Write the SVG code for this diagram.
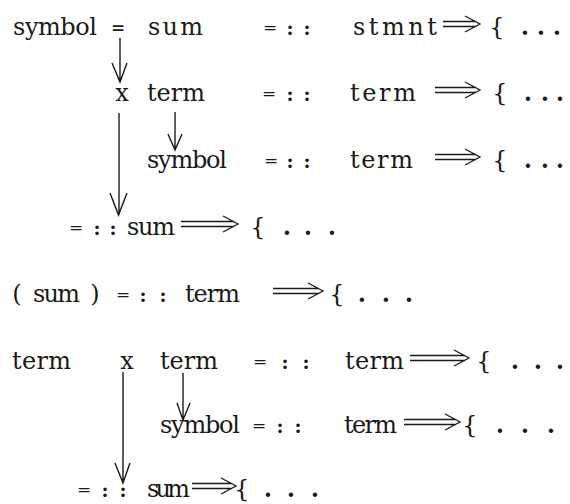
<svg xmlns="http://www.w3.org/2000/svg" width="570" height="504" viewBox="0 0 570 504">
<style>
.w{font-family:"DejaVu Serif","Liberation Serif",serif;font-size:24px;fill:#1a1a1a}
.m{font-family:"DejaVu Serif","Liberation Serif",serif;font-size:24px;fill:#1a1a1a;text-anchor:middle}
.p{font-family:"DejaVu Serif","Liberation Serif",serif;font-size:24px;font-weight:bold;fill:#1a1a1a;text-anchor:middle}
.o{font-family:"DejaVu Serif","Liberation Serif",serif;font-size:17px;fill:#1a1a1a;text-anchor:middle}
.k{font-family:"DejaVu Serif","Liberation Serif",serif;font-size:19px;font-weight:bold;fill:#1a1a1a;text-anchor:middle}
.c{fill:none;stroke:#1a1a1a;stroke-width:1.4}
.d{fill:none;stroke:#1a1a1a;stroke-width:1.3}
</style>
<rect width="570" height="504" fill="#fff"/>
<g id="row1">
<text class="w" x="13" y="35" textLength="84" lengthAdjust="spacing">symbol</text>
<text class="o" x="118" y="33" font-weight="bold">=</text>
<text class="w" x="148" y="35" textLength="55" lengthAdjust="spacing">sum</text>
<text class="o" x="270" y="33">=</text><text class="k" x="290" y="35">:</text><text class="k" x="307" y="35">:</text>
<text class="w" x="353" y="35" textLength="84" lengthAdjust="spacing">stmnt</text>
<path class="d" d="M443 21.5H476M443 26.5H476M465 16L480 24L465 32"/>
<text class="m" x="497" y="35">{</text><text class="p" x="525" y="35">.</text><text class="p" x="541" y="35">.</text><text class="p" x="557" y="35">.</text>
</g>
<g id="row2">
<text class="m" x="122" y="101">x</text>
<text class="w" x="147" y="101" textLength="58" lengthAdjust="spacing">term</text>
<text class="o" x="269" y="99">=</text><text class="k" x="290" y="101">:</text><text class="k" x="307" y="101">:</text>
<text class="w" x="350" y="101" textLength="66" lengthAdjust="spacing">term</text>
<path class="d" d="M435 87.5H476M435 92.5H476M465 82L480 90L465 98"/>
<text class="m" x="500" y="101">{</text><text class="p" x="528" y="101">.</text><text class="p" x="545" y="101">.</text><text class="p" x="560" y="101">.</text>
</g>
<g id="row3">
<text class="w" x="147" y="168" textLength="80" lengthAdjust="spacing">symbol</text>
<text class="o" x="271" y="166">=</text><text class="k" x="290" y="168">:</text><text class="k" x="307" y="168">:</text>
<text class="w" x="350" y="168" textLength="63" lengthAdjust="spacing">term</text>
<path class="d" d="M435 154.5H476M435 159.5H476M465 149L480 157L465 165"/>
<text class="m" x="500" y="168">{</text><text class="p" x="528" y="168">.</text><text class="p" x="545" y="168">.</text><text class="p" x="560" y="168">.</text>
</g>
<g id="row4">
<text class="o" x="76" y="233">=</text><text class="k" x="97" y="235">:</text><text class="k" x="113" y="235">:</text>
<text class="w" x="127" y="235" textLength="48" lengthAdjust="spacing">sum</text>
<path class="d" d="M181 221.5H234M181 226.5H234M223 216L238 224L223 232"/>
<text class="m" x="258" y="235">{</text><text class="p" x="287" y="235">.</text><text class="p" x="308" y="235">.</text><text class="p" x="332" y="235">.</text>
</g>
<g id="row5">
<text class="m" x="17" y="302">(</text>
<text class="w" x="33" y="302" textLength="47" lengthAdjust="spacing">sum</text>
<text class="m" x="95" y="302">)</text>
<text class="o" x="123" y="300">=</text><text class="k" x="143" y="302">:</text><text class="k" x="163" y="302">:</text>
<text class="w" x="185" y="302" textLength="55" lengthAdjust="spacing">term</text>
<path class="d" d="M273 288.5H319M273 293.5H319M308 283L323 291L308 299"/>
<text class="m" x="337" y="302">{</text><text class="p" x="362" y="302">.</text><text class="p" x="386" y="302">.</text><text class="p" x="409" y="302">.</text>
</g>
<g id="row6">
<text class="w" x="12" y="369" textLength="59" lengthAdjust="spacing">term</text>
<text class="m" x="127" y="369">x</text>
<text class="w" x="160" y="369" textLength="58" lengthAdjust="spacing">term</text>
<text class="o" x="260" y="367">=</text><text class="k" x="285" y="369">:</text><text class="k" x="306" y="369">:</text>
<text class="w" x="345" y="369" textLength="59" lengthAdjust="spacing">term</text>
<path class="d" d="M410 355.5H465M410 360.5H465M454 350L469 358L454 366"/>
<text class="m" x="484" y="369">{</text><text class="p" x="515" y="369">.</text><text class="p" x="538" y="369">.</text><text class="p" x="560" y="369">.</text>
</g>
<g id="row7">
<text class="w" x="160" y="433" textLength="80" lengthAdjust="spacing">symbol</text>
<text class="o" x="259" y="431">=</text><text class="k" x="280" y="433">:</text><text class="k" x="298" y="433">:</text>
<text class="w" x="344" y="433" textLength="53" lengthAdjust="spacing">term</text>
<path class="d" d="M404 419.5H456M404 424.5H456M445 414L460 422L445 430"/>
<text class="m" x="470" y="433">{</text><text class="p" x="500" y="433">.</text><text class="p" x="525" y="433">.</text><text class="p" x="551" y="433">.</text>
</g>
<g id="row8">
<text class="o" x="84" y="495">=</text><text class="k" x="105" y="497">:</text><text class="k" x="123" y="497">:</text>
<text class="w" x="147" y="497" textLength="43" lengthAdjust="spacing">sum</text>
<path class="d" d="M192 483.5H232M192 488.5H232M221 478L236 486L221 494"/>
<text class="m" x="242" y="497">{</text><text class="p" x="268" y="497">.</text><text class="p" x="291" y="497">.</text><text class="p" x="315" y="497">.</text>
</g>
<g id="connectors" class="c">
<path d="M120 38V82M112 63L120 82L127 63"/>
<path d="M175 112V150M168 134L175 150L182 134"/>
<path d="M119 113V215M110 193L118.5 215L127 193"/>
<path d="M183 373V420M177 403L183 420L190 403"/>
<path d="M123 372V483M115 463L123 483L130 463"/>
</g>
</svg>
